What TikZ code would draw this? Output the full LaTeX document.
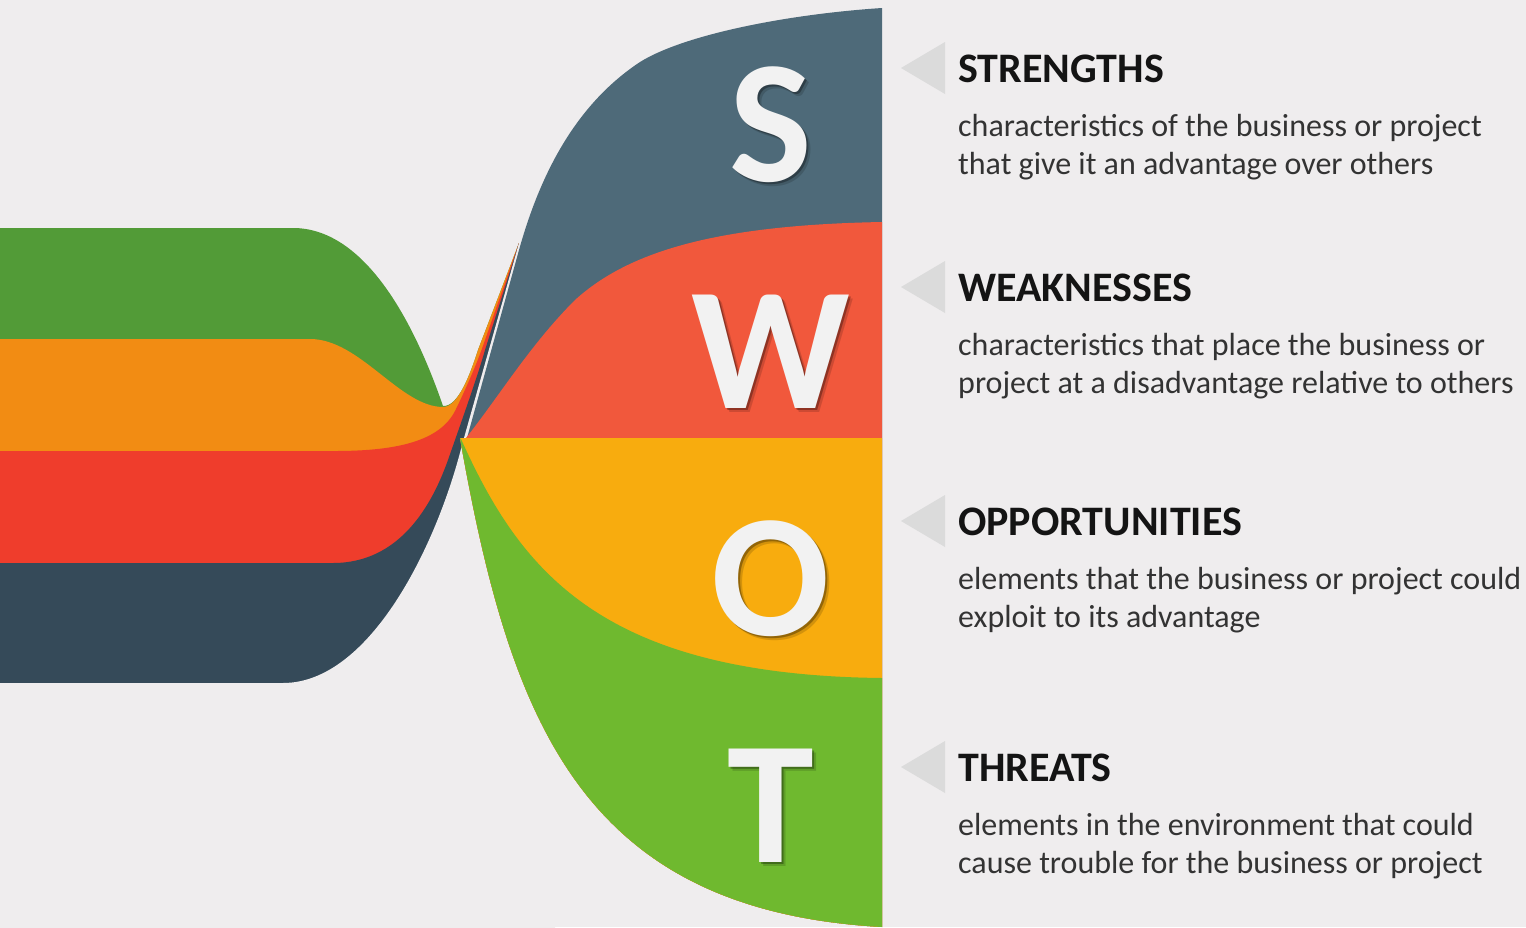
\documentclass[tikz,border=0pt]{standalone}
\usepackage{fontspec}
\setmainfont{Carlito}
\usepackage{xcolor}
\usepackage{tikz}
\definecolor{paper}{RGB}{239,237,238}
\definecolor{leftGreen}{RGB}{82,155,55}
\definecolor{leftOrange}{RGB}{242,140,19}
\definecolor{leftRed}{RGB}{239,61,44}
\definecolor{leftSlate}{RGB}{53,74,89}
\definecolor{swotS}{RGB}{78,106,121}
\definecolor{swotW}{RGB}{241,88,60}
\definecolor{swotO}{RGB}{248,172,14}
\definecolor{swotT}{RGB}{111,185,47}
\definecolor{marker}{RGB}{219,219,219}
\definecolor{headInk}{RGB}{20,20,20}
\definecolor{bodyInk}{RGB}{51,51,51}
\tikzset{
  strandClose/.style={insert path={-- (545,243) -- (545,927) -- (0,927) -- cycle}}, % left ribbon, closed under the strand
  paperClose/.style={insert path={-- (555,243) -- (555,945) -- (-10,945) -- (-10,683) -- cycle}}, % wipe below the ribbon
  fanClose/.style={insert path={-- (882,927) .. controls (580,910) and (510,720) .. (460,438) -- cycle}}, % right fan, closed along T edge
  bigLetter/.style={text=white!95!black, font=\fontsize{175}{175}\selectfont\bfseries, anchor=base, inner sep=0pt},
  letterShadow/.style={bigLetter, text=black},
  heading/.style={anchor=base west, inner sep=0pt, text=headInk, font=\fontsize{42}{44}\selectfont\bfseries},
  body/.style={anchor=base west, inner sep=0pt, text=bodyInk, font=\fontsize{32}{38}\selectfont},
  pointer/.style={fill=marker}
}

\begin{document}
\begin{tikzpicture}[x=1pt, y=-1pt]
  \useasboundingbox (0,0) rectangle (1526,927);
  \fill[paper] (0,0) rectangle (1526,927);
  % left ribbon, back to front
  \fill[leftGreen] (0,228) -- (293,228) .. controls (360,228) and (410,310) .. (443,406)
    .. controls (458,407) and (470,375) .. (478,350) -- (519,243) [strandClose];
  \fill[leftOrange] (0,339) -- (310,339) .. controls (360,339) and (400,407) .. (443,407)
    .. controls (458,407) and (470,375) .. (478,350) -- (519,243) [strandClose];
  \fill[leftRed] (0,451) -- (335,451) .. controls (400,451) and (440,440) .. (455,411)
    .. controls (463,395) and (475,368) .. (481.5,350) -- (519,243) [strandClose];
  \fill[leftSlate] (0,563) -- (333,563) .. controls (400,563) and (432,505) .. (448,460)
    .. controls (462,420) and (478,375) .. (485,350) -- (519,243) [strandClose];
  \fill[paper] (-10,683) -- (283,683) .. controls (370,683) and (437,545) .. (462,445)
    -- (519,243) [paperClose];
  % right fan
  \coordinate (apex) at (463,438);
  \fill[swotS] (467,438) -- (519,250) .. controls (540,175) and (575,105) .. (640,62)
    .. controls (685,34) and (790,14) .. (882,8) [fanClose];
  \fill[swotW] (466,438) .. controls (500,395) and (530,345) .. (575,300)
    .. controls (630,250) and (720,225) .. (882,222) [fanClose];
  \fill[swotO] (apex) -- (882,438) [fanClose];
  \fill[swotT] (461,439) .. controls (520,570) and (600,675) .. (882,678) [fanClose];
  % letters with soft shadow
  \foreach \row/\ltr/\ybase in {s/S/181, w/W/408, o/O/635, t/T/862}{
    \node[letterShadow, opacity=0.15] (blur\row) at (775,\ybase+4) {\ltr};
    \node[letterShadow, opacity=0.3] (shade\row) at (773,\ybase+2) {\ltr};
    \node[bigLetter] (letter\row) at (771,\ybase) {\ltr};
  }
  % captions
  \foreach \row/\yb/\head/\lineA/\lineB in {
    s/82/STRENGTHS/characteristics of the business or project/that give it an advantage over others,
    w/301/WEAKNESSES/characteristics that place the business or/project at a disadvantage relative to others,
    o/535/OPPORTUNITIES/elements that the business or project could/exploit to its advantage,
    t/781/THREATS/elements in the environment that could/cause trouble for the business or project}{
    \fill[pointer] (901,\yb-14) -- (945,\yb-40) -- (945,\yb+12) -- cycle;
    \node[heading] (head\row) at (958,\yb) {\head};
    \node[body] (first\row) at (958,\yb+54) {\lineA};
    \node[body] (second\row) at (958,\yb+92) {\lineB};
  }
\end{tikzpicture}
\end{document}
